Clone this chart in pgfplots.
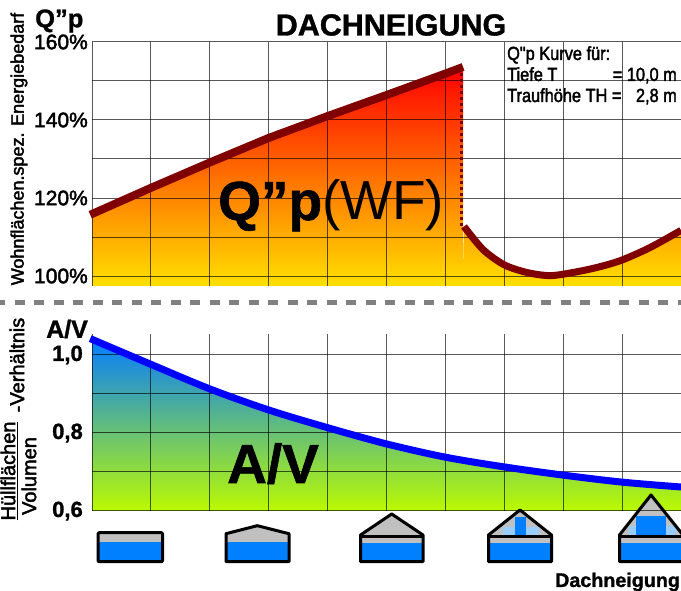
\documentclass[border=0pt]{standalone}
\usepackage{fontspec}
\setmainfont{Liberation Sans}
\newfontfamily\fb[FakeBold=2.2]{Liberation Sans}
\newfontfamily\fbb[FakeBold=1.2]{Liberation Sans Bold}
\usepackage{pgfplots}
\pgfplotsset{compat=1.18}
\definecolor{qred}{RGB}{255,0,0}
\definecolor{qyel}{RGB}{255,224,0}
\definecolor{avblue}{RGB}{5,125,255}
\definecolor{avgreen}{RGB}{187,250,0}
\definecolor{curvered}{RGB}{128,0,0}
\definecolor{sky}{RGB}{0,128,255}
\definecolor{lsky}{RGB}{153,204,255}
\definecolor{rgray}{RGB}{192,192,192}
\newcommand{\fs}[1]{\fontsize{#1}{#1}\selectfont}
\newcommand{\Y}[1]{\the\numexpr591-#1\relax}
\pgfplotsset{
  common/.style={
    scale only axis, width=589pt, xmin=0, xmax=10,
    xtick={0,1,...,10}, xticklabels={},
    set layers=axis on top, clip=false,
    axis line style={draw=none},
    major tick length=0pt,
    grid=major,
    major grid style={draw=black, opacity=0.65, line width=1pt},
    yticklabel style={anchor=east, inner sep=0pt, xshift=-1pt,
      /pgf/number format/assume math mode=true},
  },
  curve/.style={on layer=axis foreground, no marks, line join=round},
}
\begin{document}
\begin{tikzpicture}[x=1pt,y=1pt]
% upper chart
\begin{axis}[common, at={(92pt,305pt)}, anchor=south west, height=244pt,
  ymin=97.44, ymax=160, ytick={100,110,120,130,140,150,160},
  yticklabel style={xshift=-3pt},
  yticklabels={{\fb\fs{21}100\%},,{\fb\fs{21}120\%},,{\fb\fs{21}140\%},,{\raisebox{-8pt}{\fb\fs{21}160\%}}}]
\addplot[draw=none, shade, top color=qred, bottom color=qyel] coordinates {
 (0,116) (1,122.6) (2,129.1) (3,135.4) (4,141.0) (5,146.4) (6,151.9) (6.3,153.6)
 (6.3,97.44) (6.316,112.7) (6.638,106.8) (6.995,102.9) (7.385,100.9) (7.776,100.1)
 (8.166,100.9) (8.574,102.05) (8.981,103.7) (9.474,107.3) (10,111.7)} \closedcycle;
\addplot[curve, draw=curvered, line width=3pt, dash pattern=on 3pt off 3pt] coordinates {(6.28,153.6) (6.28,112.5)};
\addplot[curve, draw=curvered, line width=8pt] coordinates {
 (-0.03,115.7) (1,122.6) (2,129.1) (3,135.4) (4,141.0) (5,146.4) (6,151.9) (6.3,153.6)};
\addplot[curve, draw=curvered, line width=7pt, smooth] coordinates {
 (6.316,112.7) (6.638,106.8) (6.995,102.9) (7.385,100.9) (7.776,100.1)
 (8.166,100.9) (8.574,102.2) (8.981,104.0) (9.474,107.3) (10,111.7)};
\end{axis}
% lower chart
\begin{axis}[common, at={(92pt,80pt)}, anchor=south west, height=177pt,
  ymin=0.6, ymax=1.0538, ytick={0.6,0.7,0.8,0.9,1.0},
  yticklabel style={xshift=-8pt},
  yticklabels={{\fbb\fs{22}0,6},,{\fbb\fs{22}0,8},,{\fbb\fs{22}1,0}}]
\addplot[draw=none, shade, top color=avblue, bottom color=avgreen] coordinates {
 (0,1.04) (1,0.976) (2,0.913) (3,0.859) (4,0.8136) (5,0.772) (6,0.738) (7,0.713)
 (8,0.692) (9,0.674) (10,0.6615)} \closedcycle;
\addplot[curve, draw=blue, line width=7pt, smooth] coordinates {
 (-0.03,1.042) (1,0.976) (2,0.913) (3,0.859) (4,0.8136) (5,0.772) (6,0.738) (7,0.713)
 (8,0.692) (9,0.674) (10,0.6615)};
\addplot[curve, draw=black, line width=1pt] coordinates {(10,0.6) (10,1.0538)};
\end{axis}
% separator
\draw[draw=black!50, line width=5pt, dash pattern=on 10pt off 9.5pt] (-5,288) -- (681,288);
% texts
\node[anchor=center] at (391,\Y{25}) {\fbb\fs{30.5}DACHNEIGUNG};
\node[anchor=west,inner sep=0pt] at (35,\Y{21}) {\fbb\fs{25.5}Q”p};
\node[anchor=west,inner sep=0pt] at (46,\Y{329}) {\fbb\fs{25}A/V};
\node[rotate=90,inner sep=0pt] at (19,\Y{149}) {\fb\fs{18}Wohnflächen.spez. Energiebedarf};
\node[anchor=base west,inner sep=0pt] at (218,\Y{220}) {\fs{55}{\fbb Q”p}(WF)};
\node[anchor=base west,inner sep=0pt] at (227,\Y{483}) {\fbb\fs{55}A/V};
\node[anchor=base west,inner sep=0pt,xscale=.86] at (507,\Y{60}) {\fb\fs{19}Q"p Kurve für:};
\node[anchor=base west,inner sep=0pt,xscale=.86] at (507,\Y{81}) {\fb\fs{19}Tiefe T};
\node[anchor=base east,inner sep=0pt,xscale=.86] at (677,\Y{81}) {\fb\fs{19}= 10,0 m};
\node[anchor=base west,inner sep=0pt,xscale=.86] at (507,\Y{102}) {\fb\fs{19}Traufhöhe TH =};
\node[anchor=base east,inner sep=0pt,xscale=.86] at (677,\Y{102}) {\fb\fs{19}2,8 m};
\node[rotate=90,inner sep=0pt] at (17,\Y{365}) {\fb\fs{20}-Verhältnis};
\node[rotate=90,inner sep=0pt] at (9,\Y{471}) {\fb\fs{20}\underline{Hüllflächen}};
\node[rotate=90,inner sep=0pt] at (29,\Y{476}) {\fb\fs{20}Volumen};
\node[anchor=base west,inner sep=0pt] at (555,\Y{587}) {\fbb\fs{19.7}Dachneigung};
% house icons
\tikzset{wall/.style={line width=3pt, line join=round, draw=black}}
% 1
\fill[rgray] (98,29.3) rectangle (162.5,58.3);
\fill[sky] (98,29.3) rectangle (162.5,49.3);
\draw[wall, rounded corners=1pt] (98,29.3) rectangle (162.5,58.3);
% 2
\fill[rgray] (226,29.3) -- (226,57.3) -- (257.3,65.3) -- (289,57.3) -- (289,29.3) -- cycle;
\fill[sky] (226,29.3) rectangle (289,49.3);
\draw[wall] (226,29.3) -- (226,57.3) -- (257.3,65.3) -- (289,57.3) -- (289,29.3) -- cycle;
% 3
\fill[rgray] (360.5,29.3) -- (360.5,56) -- (391.7,77) -- (423,56) -- (423,29.3) -- cycle;
\fill[sky] (360.5,29.3) rectangle (423,48.3);
\draw[wall] (360.5,29.3) -- (360.5,56) -- (391.7,77) -- (423,56) -- (423,29.3) -- cycle;
\draw[wall] (360.5,54.5) -- (423,54.5);
% 4
\fill[rgray] (488.5,29.3) -- (488.5,56) -- (520,81) -- (551.5,56) -- (551.5,29.3) -- cycle;
\fill[sky] (488.5,29.3) rectangle (551.5,48.3);
\fill[lsky] (503,56) rectangle (539,64.3);
\fill[sky] (515,56) rectangle (525.7,74.3);
\draw[wall] (488.5,29.3) -- (488.5,56) -- (520,81) -- (551.5,56) -- (551.5,29.3) -- cycle;
\draw[wall] (488.5,54.5) -- (551.5,54.5);
% 5
\fill[rgray] (619.5,29.3) -- (619.5,56) -- (651,96) -- (683,56) -- (683,29.3) -- cycle;
\fill[sky] (619.5,29.3) rectangle (683,48.3);
\fill[lsky] (629,56) rectangle (675.7,65);
\fill[sky] (636,56) rectangle (665.7,75);
\draw[wall] (619.5,29.3) -- (619.5,56) -- (651,96) -- (683,56) -- (683,29.3) -- cycle;
\draw[wall] (619.5,54.5) -- (683,54.5);
\pgfresetboundingbox
\path[use as bounding box] (0,0) rectangle (681,591);
\end{tikzpicture}
\end{document}
